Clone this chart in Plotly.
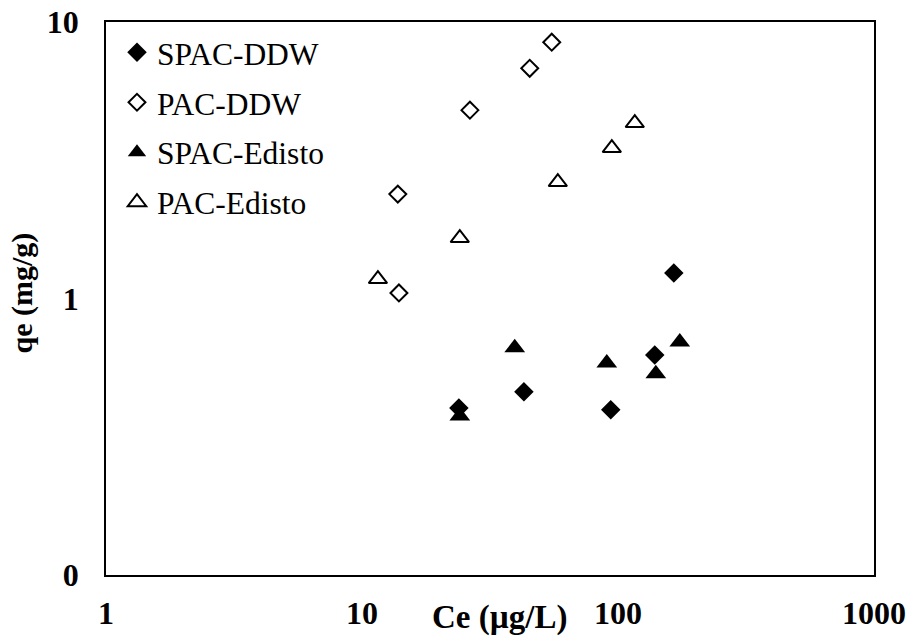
import plotly.graph_objects as go

# Equilibrium concentration Ce (µg/L) and sorbed amount qe (mg/g)
spac_ddw_ce = [23.9, 42.9, 93.7, 139.2, 165.2]
spac_ddw_qe = [0.402, 0.460, 0.396, 0.625, 1.236]

pac_ddw_ce = [13.8, 13.94, 26.4, 45.2, 55.1]
pac_ddw_qe = [2.385, 1.047, 4.80, 6.80, 8.45]

spac_edisto_ce = [24.1, 39.5, 90.4, 140.5, 174.3]
spac_edisto_qe = [0.376, 0.663, 0.585, 0.534, 0.696]

pac_edisto_ce = [11.54, 24.1, 58.2, 94.6, 116.3]
pac_edisto_qe = [1.176, 1.654, 2.636, 3.50, 4.31]

x_tickvals = [1, 10, 100, 1000]
x_ticktext = ["1", "10", "100", "1000"]
y_tickvals = [0.1, 1, 10]
y_ticktext = ["0", "1", "10"]

FONT = "Liberation Serif"

series = [
    ("SPAC-DDW", spac_ddw_ce, spac_ddw_qe,
     dict(symbol="diamond", size=15, color="black", line=dict(color="black", width=0))),
    ("PAC-DDW", pac_ddw_ce, pac_ddw_qe,
     dict(symbol="diamond-open", size=13, color="black", line=dict(color="black", width=2))),
    ("SPAC-Edisto", spac_edisto_ce, spac_edisto_qe,
     dict(symbol="triangle-up", size=18, color="black", line=dict(color="black", width=0))),
    ("PAC-Edisto", pac_edisto_ce, pac_edisto_qe,
     dict(symbol="triangle-up-open", size=16, color="black", line=dict(color="black", width=2))),
]

fig = go.Figure()
for name, xs, ys, marker in series:
    fig.add_trace(go.Scatter(
        x=xs, y=ys, mode="markers", name=name, marker=marker,
        legendgroup=name,
    ))

fig.update_layout(
    width=910, height=636,
    margin=dict(l=106, r=36, t=22, b=61, autoexpand=False),
    paper_bgcolor="white", plot_bgcolor="white",
    font=dict(family=FONT, color="black", size=30),
    showlegend=True,
    legend=dict(
        x=0.0143, y=0.994, xanchor="left", yanchor="top",
        font=dict(family=FONT, size=31.5, color="black"),
        bgcolor="rgba(0,0,0,0)", tracegroupgap=6,
    ),
)

fig.update_xaxes(
    type="log", range=[0, 3], automargin=False,
    tickvals=x_tickvals, ticktext=x_ticktext,
    showgrid=False, zeroline=False, ticks="",
    showline=True, linecolor="black", linewidth=1.5, mirror=True,
    tickfont=dict(family=FONT, size=32, color="black", weight="bold"),
    ticklabelstandoff=9,
)
fig.update_yaxes(
    type="log", range=[-1, 1], automargin=False,
    tickvals=y_tickvals, ticktext=y_ticktext,
    showgrid=False, zeroline=False, ticks="",
    showline=True, linecolor="black", linewidth=1.5, mirror=True,
    tickfont=dict(family=FONT, size=32, color="black", weight="bold"),
    ticklabelstandoff=19,
)

# Axis titles
fig.add_annotation(
    text="Ce (µg/L)", xref="paper", yref="paper", x=0.513, y=-0.077,
    xanchor="center", yanchor="middle", showarrow=False,
    font=dict(family=FONT, size=33, color="black", weight="bold"),
)
fig.add_annotation(
    text="qe (mg/g)", xref="paper", yref="paper", x=-0.11, y=0.51,
    xanchor="center", yanchor="middle", showarrow=False, textangle=-90,
    font=dict(family=FONT, size=30, color="black", weight="bold"),
)

fig.write_html("out.html")
